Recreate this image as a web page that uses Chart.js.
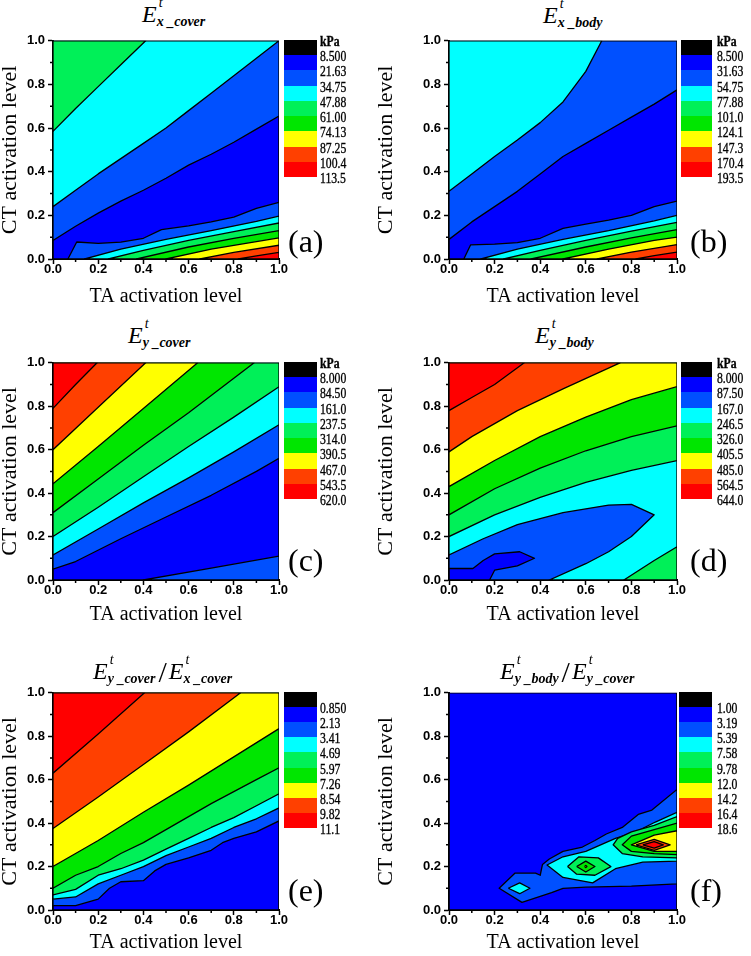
<!DOCTYPE html>
<html>
<head>
<meta charset="utf-8">
<script src="https://cdn.jsdelivr.net/npm/chart.js@4.4.0/dist/chart.umd.min.js"></script>
<style>
  body { margin: 0; background: #fff; width: 751px; height: 956px; position: relative; overflow: hidden; font-family: 'Liberation Serif', serif; color: #000; }
  canvas { position: absolute; }
  .cb { position: absolute; }
  .cb div { width: 100%; }
  .lab { position: absolute; font-size: 15px; line-height: 14px; transform: scaleX(0.78); transform-origin: 0 50%; white-space: nowrap; -webkit-text-stroke: 0.35px #000; }
  .tag { position: absolute; font-size: 32px; line-height: 32px; white-space: nowrap; }
  .ttl { position: absolute; white-space: nowrap; font-size: 24px; line-height: 24px; }
  .ttl .E { font-style: italic; }
  .ss { display: inline-block; position: relative; font-size: 14px; line-height: 14px; }
  .ss .sup { position: absolute; left: 2px; top: -15px; font-style: italic; }
  .ss .sub { position: relative; top: 4px; font-style: italic; font-weight: bold; }
  .sl { font-size: 30px; margin: 0 2px 0 3px; position: relative; top: 3px; }
</style>
</head>
<body>
<script>
// colour bands of the Origin-style palette, index 0 = below lowest level
const PALETTE = ['#000000', '#0000FF', '#0050FF', '#00FFFF', '#00F058', '#00E600', '#FFFF00', '#FF4000', '#FF0000'];

// colorbar labels
const aTicks = ['kPa', '8.500', '21.63', '34.75', '47.88', '61.00', '74.13', '87.25', '100.4', '113.5'];
const bTicks = ['kPa', '8.500', '31.63', '54.75', '77.88', '101.0', '124.1', '147.3', '170.4', '193.5'];
const cTicks = ['kPa', '8.000', '84.50', '161.0', '237.5', '314.0', '390.5', '467.0', '543.5', '620.0'];
const dTicks = ['kPa', '8.000', '87.50', '167.0', '246.5', '326.0', '405.5', '485.0', '564.5', '644.0'];
const eTicks = ['', '0.850', '2.13', '3.41', '4.69', '5.97', '7.26', '8.54', '9.82', '11.1'];
const fTicks = ['', '1.00', '3.19', '5.39', '7.58', '9.78', '12.0', '14.2', '16.4', '18.6'];

const MINOR = [0.1, 0.3, 0.5, 0.7, 0.9];

// contour lines, [TA, CT] points
// (a) E x_cover
const aUp1 = [[0, 0.085], [0.1, 0.15], [0.2, 0.21], [0.3, 0.265], [0.4, 0.315], [0.5, 0.37], [0.6, 0.43], [0.7, 0.48], [0.8, 0.535], [0.9, 0.595], [1, 0.655]];
const aUp2 = [[0, 0.24], [0.1, 0.315], [0.2, 0.39], [0.3, 0.46], [0.4, 0.53], [0.5, 0.6], [0.6, 0.68], [0.7, 0.76], [0.8, 0.84], [0.9, 0.92], [1, 1]];
const aUp3 = [[0, 0.585], [0.1, 0.69], [0.2, 0.79], [0.3, 0.89], [0.41, 1]];
const aLo1 = [[0.066, 0], [0.105, 0.078], [0.2, 0.072], [0.3, 0.077], [0.4, 0.095], [0.48, 0.135], [0.6, 0.152], [0.7, 0.17], [0.8, 0.192], [0.9, 0.232], [1, 0.26]];
const aLo2 = [[0.14, 0], [0.3, 0.045], [0.5, 0.09], [0.7, 0.13], [0.9, 0.172], [1, 0.197]];
const aLo3 = [[0.245, 0], [0.4, 0.04], [0.6, 0.085], [0.8, 0.125], [1, 0.165]];
const aLo4 = [[0.37, 0], [0.6, 0.055], [0.8, 0.095], [1, 0.13]];
const aLo5 = [[0.5, 0], [0.7, 0.045], [0.9, 0.08], [1, 0.097]];
const aLo6 = [[0.65, 0], [0.8, 0.03], [1, 0.063]];
const aLo7 = [[0.82, 0], [0.9, 0.014], [1, 0.03]];
// [line, band, side]  side 1 = region left of the line as written, -1 = right
const aRegions = [[aUp1, 2, 1], [aUp2, 3, 1], [aUp3, 4, 1], [aLo1, 2, -1], [aLo2, 3, -1], [aLo3, 4, -1], [aLo4, 5, -1], [aLo5, 6, -1], [aLo6, 7, -1], [aLo7, 8, -1]];

// (b) E x_body
const bUp1 = [[0, 0.09], [0.1, 0.17], [0.2, 0.24], [0.3, 0.31], [0.4, 0.39], [0.5, 0.47], [0.6, 0.53], [0.7, 0.59], [0.8, 0.65], [0.9, 0.71], [1, 0.775]];
const bUp2 = [[0, 0.31], [0.1, 0.39], [0.2, 0.47], [0.3, 0.545], [0.4, 0.625], [0.5, 0.72], [0.6, 0.86], [0.67, 1]];
const bLo1 = [[0.065, 0], [0.095, 0.065], [0.2, 0.068], [0.3, 0.075], [0.4, 0.095], [0.5, 0.14], [0.6, 0.16], [0.7, 0.178], [0.8, 0.2], [0.9, 0.24], [1, 0.265]];
const bLo2 = [[0.14, 0], [0.3, 0.045], [0.5, 0.09], [0.7, 0.13], [0.9, 0.175], [1, 0.2]];
const bLo3 = [[0.24, 0], [0.4, 0.04], [0.6, 0.085], [0.8, 0.128], [1, 0.168]];
const bLo4 = [[0.36, 0], [0.6, 0.055], [0.8, 0.097], [1, 0.135]];
const bLo5 = [[0.5, 0], [0.7, 0.045], [0.9, 0.085], [1, 0.1]];
const bLo6 = [[0.65, 0], [0.8, 0.032], [1, 0.066]];
const bLo7 = [[0.82, 0], [0.9, 0.015], [1, 0.032]];
const bRegions = [[bUp1, 2, 1], [bUp2, 3, 1], [bLo1, 2, -1], [bLo2, 3, -1], [bLo3, 4, -1], [bLo4, 5, -1], [bLo5, 6, -1], [bLo6, 7, -1], [bLo7, 8, -1]];

// (c) E y_cover
const cUp1 = [[0, 0.05], [0.1, 0.085], [0.3, 0.19], [0.5, 0.29], [0.7, 0.39], [0.9, 0.5], [1, 0.56]];
const cUp2 = [[0, 0.115], [0.2, 0.235], [0.4, 0.355], [0.6, 0.47], [0.8, 0.59], [1, 0.715]];
const cUp3 = [[0, 0.2], [0.2, 0.335], [0.4, 0.475], [0.6, 0.615], [0.8, 0.75], [1, 0.89]];
const cUp4 = [[0, 0.31], [0.2, 0.465], [0.4, 0.62], [0.6, 0.77], [0.89, 1]];
const cUp5 = [[0, 0.443], [0.2, 0.615], [0.4, 0.79], [0.64, 1]];
const cUp6 = [[0, 0.6], [0.2, 0.795], [0.41, 1]];
const cUp7 = [[0, 0.79], [0.1, 0.9], [0.195, 1]];
const cLo1 = [[0.4, 0], [0.7, 0.055], [1, 0.11]];
const cRegions = [[cUp1, 2, 1], [cUp2, 3, 1], [cUp3, 4, 1], [cUp4, 5, 1], [cUp5, 6, 1], [cUp6, 7, 1], [cUp7, 8, 1], [cLo1, 2, -1]];

// (d) E y_body
const dIn1 = [[0, 0.053], [0.105, 0.053], [0.15, 0.09], [0.2, 0.12], [0.31, 0.13], [0.375, 0.1], [0.3, 0.065], [0.2, 0.045], [0.178, 0]];
const dIn2 = [[0, 0.115], [0.15, 0.19], [0.3, 0.255], [0.5, 0.31], [0.7, 0.345], [0.8, 0.348], [0.9, 0.3], [0.8, 0.2], [0.7, 0.13], [0.6, 0.075], [0.44, 0]];
const dUp3 = [[0, 0.2], [0.2, 0.3], [0.4, 0.38], [0.6, 0.45], [0.8, 0.505], [1, 0.55]];
const dUp4 = [[0, 0.3], [0.2, 0.42], [0.4, 0.515], [0.6, 0.595], [0.8, 0.66], [1, 0.71]];
const dUp5 = [[0, 0.43], [0.2, 0.55], [0.4, 0.66], [0.6, 0.75], [0.8, 0.83], [1, 0.89]];
const dUp6 = [[0, 0.59], [0.1, 0.66], [0.3, 0.78], [0.5, 0.88], [0.75, 1]];
const dUp7 = [[0, 0.78], [0.1, 0.84], [0.2, 0.9], [0.33, 1]];
const dLo1 = [[0.767, 0], [0.9, 0.09], [1, 0.153]];
const dRegions = [[dIn1, 2, 1], [dIn2, 3, 1], [dUp3, 4, 1], [dUp4, 5, 1], [dUp5, 6, 1], [dUp6, 7, 1], [dUp7, 8, 1], [dLo1, 4, -1]];

// (e) ratio cover
const eUp1 = [[0, 0.02], [0.1, 0.02], [0.2, 0.05], [0.25, 0.1], [0.3, 0.13], [0.4, 0.135], [0.45, 0.18], [0.5, 0.21], [0.6, 0.24], [0.7, 0.275], [0.75, 0.31], [0.8, 0.33], [0.9, 0.36], [1, 0.41]];
const eUp2 = [[0, 0.05], [0.1, 0.06], [0.2, 0.12], [0.3, 0.16], [0.4, 0.2], [0.5, 0.25], [0.6, 0.29], [0.7, 0.33], [0.8, 0.38], [0.9, 0.42], [1, 0.47]];
const eUp3 = [[0, 0.07], [0.1, 0.095], [0.2, 0.16], [0.3, 0.19], [0.4, 0.23], [0.5, 0.28], [0.6, 0.33], [0.7, 0.38], [0.8, 0.425], [0.9, 0.48], [1, 0.535]];
const eUp4 = [[0, 0.1], [0.1, 0.16], [0.2, 0.2], [0.3, 0.26], [0.4, 0.31], [0.5, 0.37], [0.6, 0.43], [0.7, 0.49], [0.8, 0.545], [0.9, 0.6], [1, 0.655]];
const eUp5 = [[0, 0.2], [0.1, 0.26], [0.2, 0.32], [0.4, 0.45], [0.6, 0.575], [0.8, 0.705], [1, 0.835]];
const eUp6 = [[0, 0.375], [0.2, 0.52], [0.4, 0.67], [0.6, 0.82], [0.83, 1]];
const eUp7 = [[0, 0.63], [0.2, 0.81], [0.405, 1]];
const eRegions = [[eUp1, 2, 1], [eUp2, 3, 1], [eUp3, 4, 1], [eUp4, 5, 1], [eUp5, 6, 1], [eUp6, 7, 1], [eUp7, 8, 1]];

// (f) ratio y
const fIn1 = [[1, 0.555], [0.89, 0.46], [0.83, 0.44], [0.76, 0.38], [0.69, 0.35], [0.64, 0.32], [0.585, 0.29], [0.5, 0.27], [0.44, 0.235], [0.41, 0.21], [0.4, 0.16], [0.38, 0.17], [0.29, 0.17], [0.22, 0.1], [0.32, 0.035], [0.45, 0.08], [0.5, 0.1], [0.6, 0.105], [0.8, 0.11], [1, 0.12]];
const fIn2 = [[0.26, 0.1], [0.31, 0.125], [0.355, 0.1], [0.31, 0.075], [0.26, 0.1]];
const fIn3 = [[1, 0.45], [0.905, 0.405], [0.82, 0.36], [0.73, 0.33], [0.6, 0.27], [0.5, 0.245], [0.43, 0.207], [0.5, 0.15], [0.63, 0.125], [0.73, 0.19], [0.85, 0.22], [1, 0.225]];
const fIn4 = [[0.52, 0.2], [0.57, 0.245], [0.655, 0.24], [0.71, 0.2], [0.64, 0.16], [0.56, 0.165], [0.52, 0.2]];
const fIn5 = [[0.56, 0.2], [0.6, 0.225], [0.64, 0.2], [0.6, 0.175], [0.56, 0.2]];
const fIn6 = [[0.595, 0.2], [0.6, 0.205], [0.605, 0.2], [0.6, 0.195], [0.595, 0.2]];
const fIn7 = [[1, 0.43], [0.9, 0.39], [0.8, 0.36], [0.74, 0.33], [0.72, 0.3], [0.76, 0.26], [0.85, 0.245], [1, 0.24]];
const fIn8 = [[1, 0.4], [0.9, 0.37], [0.8, 0.34], [0.76, 0.3], [0.8, 0.27], [0.9, 0.26], [1, 0.255]];
const fIn9 = [[1, 0.365], [0.9, 0.345], [0.8, 0.3], [0.9, 0.27], [1, 0.27]];
const fIn10 = [[0.82, 0.3], [0.9, 0.325], [0.97, 0.3], [0.9, 0.275], [0.82, 0.3]];
const fIn11 = [[0.85, 0.3], [0.9, 0.315], [0.94, 0.3], [0.9, 0.285], [0.85, 0.3]];
const fRegions = [[fIn1, 2, 1], [fIn2, 3, 1], [fIn3, 3, 1], [fIn4, 4, 1], [fIn5, 5, 1], [fIn6, 6, 1], [fIn7, 4, 1], [fIn8, 5, 1], [fIn9, 6, 1], [fIn10, 7, 1], [fIn11, 8, 1]];

const SQUARE = [[0, 0], [1, 0], [1, 1], [0, 1], [0, 0]];
const CORNERS = [[1, 0], [1, 1], [0, 1], [0, 0]];

// position along the frame, counter-clockwise from (0,0)
function perim([x, y]) {
    const e = 1e-6;
    if (Math.abs(y) < e) return x;
    if (Math.abs(x - 1) < e) return 1 + y;
    if (Math.abs(y - 1) < e) return 3 - x;
    if (Math.abs(x) < e) return 4 - y;
    return null;
}

// close a contour line into the polygon on its left, going round the frame
function closeRegion(pts, side) {
    const p = side < 0 ? pts.slice().reverse() : pts.slice();
    const ts = perim(p[0]), te = perim(p[p.length - 1]);
    if (ts === null || te === null) return p;
    const d = ((ts - te) % 4 + 4) % 4;
    const extra = [];
    for (let c = 1; c <= 4; c++) {
        const dc = ((c - te) % 4 + 4) % 4;
        if (dc > 1e-9 && dc < d) extra.push([dc, CORNERS[c - 1]]);
    }
    extra.sort((a, b) => a[0] - b[0]);
    return p.concat(extra.map(e => e[1]), [p[0]]);
}

const minorTicks = {
    id: 'minorTicks',
    afterDraw(chart) {
        const { ctx, chartArea: a, scales: { x, y } } = chart;
        ctx.save();
        ctx.strokeStyle = '#000';
        ctx.lineWidth = 1.5;
        MINOR.forEach(v => {
            const px = x.getPixelForValue(v);
            const py = y.getPixelForValue(v);
            ctx.beginPath();
            ctx.moveTo(px, a.bottom); ctx.lineTo(px, a.bottom + 3);
            ctx.moveTo(a.left, py); ctx.lineTo(a.left - 3, py);
            ctx.stroke();
        });
        ctx.restore();
    }
};

function makePanel(p) {
    const canvas = document.createElement('canvas');
    canvas.width = p.w; canvas.height = p.h;
    canvas.style.left = p.left + 'px'; canvas.style.top = p.top + 'px';
    document.body.appendChild(canvas);

    const polys = [[SQUARE, 1, 1]].concat(p.regions);
    const n = polys.length;
    const datasets = polys.map(([pts, band, side], i) => ({
        type: 'line',
        data: closeRegion(pts, side).map(([x, y]) => ({ x, y })),
        fill: 'shape',
        backgroundColor: PALETTE[band],
        borderColor: '#000',
        borderWidth: i === 0 ? 1.6 : 1.3,
        borderJoinStyle: 'round',
        pointRadius: 0,
        tension: 0,
        order: n - i
    }));

    const tickFont = { family: 'Liberation Sans', size: 13, weight: 'bold' };
    new Chart(canvas, {
        type: 'line',
        data: { datasets },
        options: {
            responsive: false,
            animation: false,
            events: [],
            devicePixelRatio: 1,
            layout: { padding: { top: 10, right: 12, left: 0, bottom: 0 } },
            plugins: { legend: { display: false }, tooltip: { enabled: false } },
            scales: {
                x: {
                    type: 'linear', min: 0, max: 1,
                    ticks: { stepSize: 0.2, autoSkip: false, maxRotation: 0, padding: -2, color: '#000', font: tickFont, callback: v => v.toFixed(1) },
                    grid: { drawOnChartArea: false, tickLength: 5, tickWidth: 1.5, tickColor: '#000' },
                    border: { color: '#000', width: 2 },
                    title: { display: true, text: 'TA activation level', color: '#000', font: { family: 'Liberation Serif', size: 20 }, padding: 0 },
                    afterFit: s => { s.height = p.xH; }
                },
                y: {
                    type: 'linear', min: 0, max: 1,
                    ticks: { stepSize: 0.2, autoSkip: false, padding: 3, color: '#000', font: tickFont, callback: v => v.toFixed(1) },
                    grid: { drawOnChartArea: false, tickLength: 5, tickWidth: 1.5, tickColor: '#000' },
                    border: { color: '#000', width: 2 },
                    title: { display: true, text: 'CT activation level', color: '#000', font: { family: 'Liberation Serif', size: 22 }, padding: { top: -3, bottom: 0 } },
                    afterFit: s => { s.width = p.yW; }
                }
            }
        },
        plugins: [minorTicks]
    });

    // colorbar
    const cb = document.createElement('div');
    cb.className = 'cb';
    Object.assign(cb.style, { left: p.cbX + 'px', top: p.cbY + 'px', width: p.cbW + 'px', height: p.cbH + 'px' });
    PALETTE.forEach(c => {
        const box = document.createElement('div');
        box.style.height = (p.cbH / PALETTE.length) + 'px';
        box.style.background = c;
        cb.appendChild(box);
    });
    document.body.appendChild(cb);
    p.labels.forEach((t, i) => {
        if (!t) return;
        const el = document.createElement('div');
        el.className = 'lab';
        el.textContent = t;
        if (t === 'kPa') el.style.fontWeight = 'bold';
        el.style.left = p.labX + 'px';
        el.style.top = (p.cbY + i * p.cbH / PALETTE.length - 7 + 1) + 'px';
        document.body.appendChild(el);
    });

    // panel tag
    const tag = document.createElement('div');
    tag.className = 'tag';
    tag.textContent = p.tag;
    tag.style.left = p.tagX + 'px';
    tag.style.top = (p.tagY - 16) + 'px';
    document.body.appendChild(tag);

    // title
    const ttl = document.createElement('div');
    ttl.className = 'ttl';
    ttl.innerHTML = p.title.map(s => s === '/' ? '<span class="sl">/</span>' :
        `<span class="E">E</span><span class="ss"><span class="sup">t</span><span class="sub">${s}</span></span>`).join('');
    ttl.style.left = p.ttlX + 'px';
    ttl.style.top = (p.ttlBase - 20) + 'px';
    document.body.appendChild(ttl);
}

const LEFT = { left: 0, w: 291, yW: 53, cbX: 284, cbW: 33, labX: 320, tagX: 288 };
const RIGHT = { left: 376, w: 313, yW: 73, cbX: 681, cbW: 31, labX: 717, tagX: 690 };
const ROW1 = { top: 30, h: 279, xH: 50, cbY: 40, cbH: 137, tagY: 241 };
const ROW2 = { top: 352, h: 275, xH: 47, cbY: 362, cbH: 137, tagY: 560 };
const ROW3 = { top: 682, h: 273, xH: 45, cbY: 692, cbH: 136, tagY: 890 };

makePanel({ ...LEFT, ...ROW1, regions: aRegions, labels: aTicks, tag: '(a)', title: ['x _cover'], ttlX: 142, ttlBase: 22 });
makePanel({ ...RIGHT, ...ROW1, regions: bRegions, labels: bTicks, tag: '(b)', title: ['x _body'], ttlX: 543, ttlBase: 23 });
makePanel({ ...LEFT, ...ROW2, regions: cRegions, labels: cTicks, tag: '(c)', title: ['y _cover'], ttlX: 128, ttlBase: 343 });
makePanel({ ...RIGHT, ...ROW2, regions: dRegions, labels: dTicks, tag: '(d)', title: ['y _body'], ttlX: 535, ttlBase: 343 });
makePanel({ ...LEFT, ...ROW3, regions: eRegions, labels: eTicks, tag: '(e)', title: ['y _cover', '/', 'x _cover'], ttlX: 93, ttlBase: 677 });
makePanel({ ...RIGHT, ...ROW3, cbX: 679, cbW: 33, regions: fRegions, labels: fTicks, tag: '(f)', title: ['y _body', '/', 'y _cover'], ttlX: 500, ttlBase: 677 });
</script>
</body>
</html>
